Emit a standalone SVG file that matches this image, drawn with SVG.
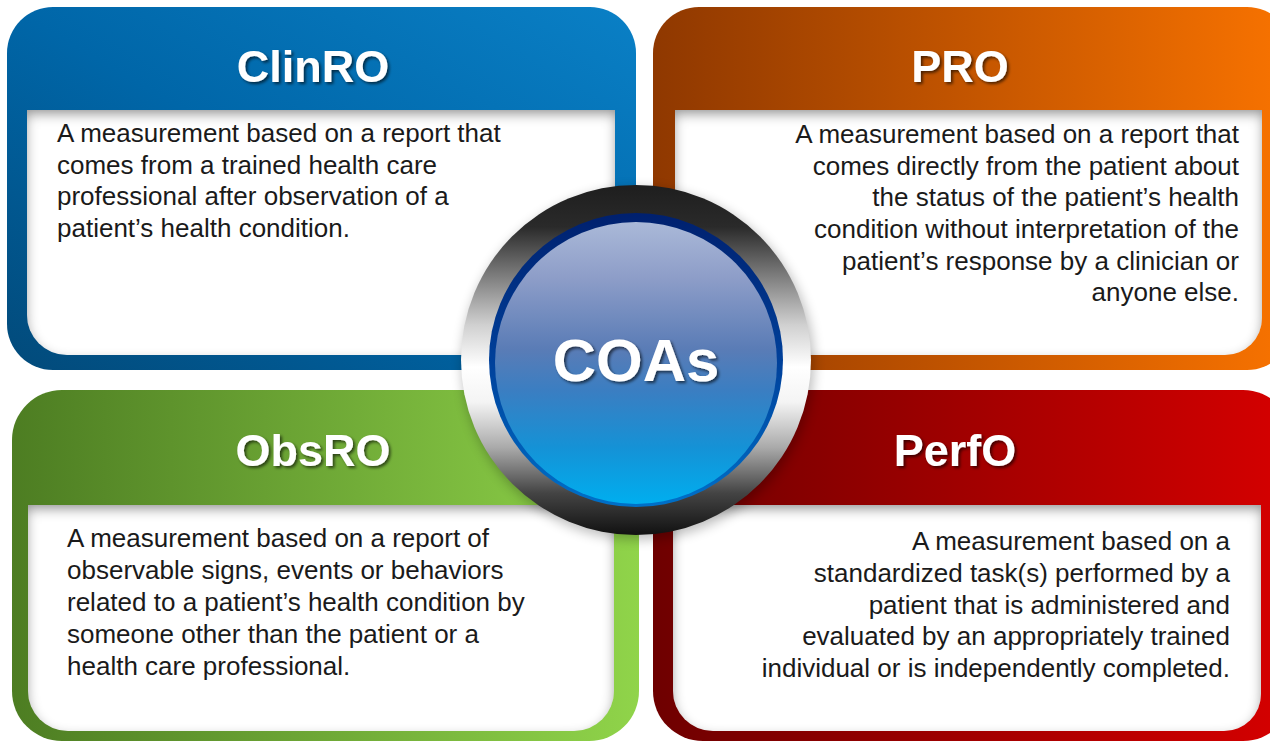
<svg xmlns="http://www.w3.org/2000/svg" width="1270" height="742" viewBox="0 0 1270 742">
<defs>
  <linearGradient id="gClin" x1="0" y1="1" x2="1" y2="0">
    <stop offset="0" stop-color="#024a7a"/>
    <stop offset="0.5" stop-color="#0066a8"/>
    <stop offset="1" stop-color="#0a80c6"/>
  </linearGradient>
  <linearGradient id="gPro" x1="0" y1="0" x2="1" y2="0">
    <stop offset="0" stop-color="#8f3800"/>
    <stop offset="1" stop-color="#f97300"/>
  </linearGradient>
  <linearGradient id="gObs" x1="0" y1="0" x2="1" y2="0">
    <stop offset="0" stop-color="#4d7d22"/>
    <stop offset="1" stop-color="#90d44a"/>
  </linearGradient>
  <linearGradient id="gPerf" x1="0" y1="0" x2="1" y2="0">
    <stop offset="0" stop-color="#6e0000"/>
    <stop offset="1" stop-color="#d60000"/>
  </linearGradient>
  <linearGradient id="gRing" x1="0" y1="0" x2="0" y2="1">
    <stop offset="0" stop-color="#1e1e1e"/>
    <stop offset="0.12" stop-color="#2a2a2a"/>
    <stop offset="0.25" stop-color="#777777"/>
    <stop offset="0.4" stop-color="#d0d0d0"/>
    <stop offset="0.52" stop-color="#ffffff"/>
    <stop offset="0.62" stop-color="#f4f4f4"/>
    <stop offset="0.75" stop-color="#aaaaaa"/>
    <stop offset="0.88" stop-color="#444444"/>
    <stop offset="1" stop-color="#111111"/>
  </linearGradient>
  <linearGradient id="gRim" x1="0" y1="0" x2="0" y2="1">
    <stop offset="0" stop-color="#00206e"/>
    <stop offset="0.5" stop-color="#00409a"/>
    <stop offset="1" stop-color="#0070c8"/>
  </linearGradient>
  <linearGradient id="gFace" x1="0" y1="0" x2="0" y2="1">
    <stop offset="0" stop-color="#aab9d8"/>
    <stop offset="0.2" stop-color="#8d9dc8"/>
    <stop offset="0.45" stop-color="#5a7cb6"/>
    <stop offset="0.6" stop-color="#3a7ec2"/>
    <stop offset="0.8" stop-color="#1592d6"/>
    <stop offset="1" stop-color="#00aeef"/>
  </linearGradient>
  <filter id="inset" x="-5%" y="-10%" width="110%" height="120%">
    <feFlood flood-color="#000" flood-opacity="0.7" result="f"/>
    <feComposite in="f" in2="SourceAlpha" operator="out" result="outside"/>
    <feGaussianBlur in="outside" stdDeviation="6" result="blur"/>
    <feOffset in="blur" dy="5" result="off"/>
    <feComposite in="off" in2="SourceAlpha" operator="in" result="inner"/>
    <feMerge><feMergeNode in="SourceGraphic"/><feMergeNode in="inner"/></feMerge>
  </filter>
  <filter id="tshadow" x="-10%" y="-20%" width="120%" height="150%">
    <feDropShadow dx="2" dy="2" stdDeviation="1.5" flood-color="#000" flood-opacity="0.6"/>
  </filter>
  <filter id="blur8" x="-20%" y="-20%" width="140%" height="140%">
    <feGaussianBlur stdDeviation="6"/>
  </filter>
  <style>
    .title { font-family: "Liberation Sans", Arial, sans-serif; font-weight: bold; font-size: 45px; fill: #ffffff; text-anchor: middle; filter: url(#tshadow); }
    .body { font-family: "Liberation Sans", Arial, sans-serif; font-size: 26px; fill: #1a1a1a; }
    .right { text-anchor: end; }
    .box { fill: #ffffff; filter: url(#inset); }
    .center { font-family: "Liberation Sans", Arial, sans-serif; font-weight: bold; font-size: 60px; fill: #ffffff; text-anchor: middle; filter: url(#tshadow); }
  </style>
</defs>

<rect width="1270" height="742" fill="#ffffff"/>

<g id="node-clinro">
  <rect x="7" y="7" width="629" height="363" rx="46" fill="url(#gClin)"/>
  <path class="box" d="M27 110 H615 V315 A40 40 0 0 1 575 355 H67 A40 40 0 0 1 27 315 Z"/>
  <text class="title" x="313" y="82">ClinRO</text>
  <text class="body" x="57" y="142">A measurement based on a report that</text>
  <text class="body" x="57" y="174">comes from a trained health care</text>
  <text class="body" x="57" y="205">professional after observation of a</text>
  <text class="body" x="57" y="237">patient’s health condition.</text>
</g>

<g id="node-pro">
  <rect x="653" y="7" width="640" height="363" rx="46" fill="url(#gPro)"/>
  <path class="box" d="M675 110 H1262 V318 A37 37 0 0 1 1225 355 H715 A40 40 0 0 1 675 315 Z"/>
  <text class="title" x="960" y="82">PRO</text>
  <text class="body right" x="1239" y="143">A measurement based on a report that</text>
  <text class="body right" x="1239" y="175">comes directly from the patient about</text>
  <text class="body right" x="1239" y="206">the status of the patient’s health</text>
  <text class="body right" x="1239" y="238">condition without interpretation of the</text>
  <text class="body right" x="1239" y="270">patient’s response by a clinician or</text>
  <text class="body right" x="1239" y="301">anyone else.</text>
</g>

<g id="node-obsro">
  <rect x="12" y="390" width="627" height="351" rx="50" fill="url(#gObs)"/>
  <path class="box" d="M28 505 H614 V691 A40 40 0 0 1 574 731 H68 A40 40 0 0 1 28 691 Z"/>
  <text class="title" x="313" y="466">ObsRO</text>
  <text class="body" x="67" y="547">A measurement based on a report of</text>
  <text class="body" x="67" y="579">observable signs, events or behaviors</text>
  <text class="body" x="67" y="611">related to a patient’s health condition by</text>
  <text class="body" x="67" y="643">someone other than the patient or a</text>
  <text class="body" x="67" y="675">health care professional.</text>
</g>

<g id="node-perfo">
  <rect x="653" y="390" width="640" height="351" rx="50" fill="url(#gPerf)"/>
  <path class="box" d="M673 505 H1261 V694 A37 37 0 0 1 1224 731 H713 A40 40 0 0 1 673 691 Z"/>
  <text class="title" x="955" y="466">PerfO</text>
  <text class="body right" x="1230" y="550">A measurement based on a</text>
  <text class="body right" x="1230" y="582">standardized task(s) performed by a</text>
  <text class="body right" x="1230" y="614">patient that is administered and</text>
  <text class="body right" x="1230" y="645">evaluated by an appropriately trained</text>
  <text class="body right" x="1230" y="677">individual or is independently completed.</text>
</g>

<g id="connectors"></g>

<g id="node-coas">
  <circle cx="638" cy="364" r="176" fill="#000" opacity="0.25" filter="url(#blur8)"/>
  <circle cx="636" cy="360" r="175" fill="url(#gRing)"/>
  <circle cx="636" cy="360" r="147" fill="url(#gRim)"/>
  <circle cx="636" cy="363" r="141" fill="url(#gFace)"/>
  <text class="center" x="636" y="381">COAs</text>
</g>
</svg>
